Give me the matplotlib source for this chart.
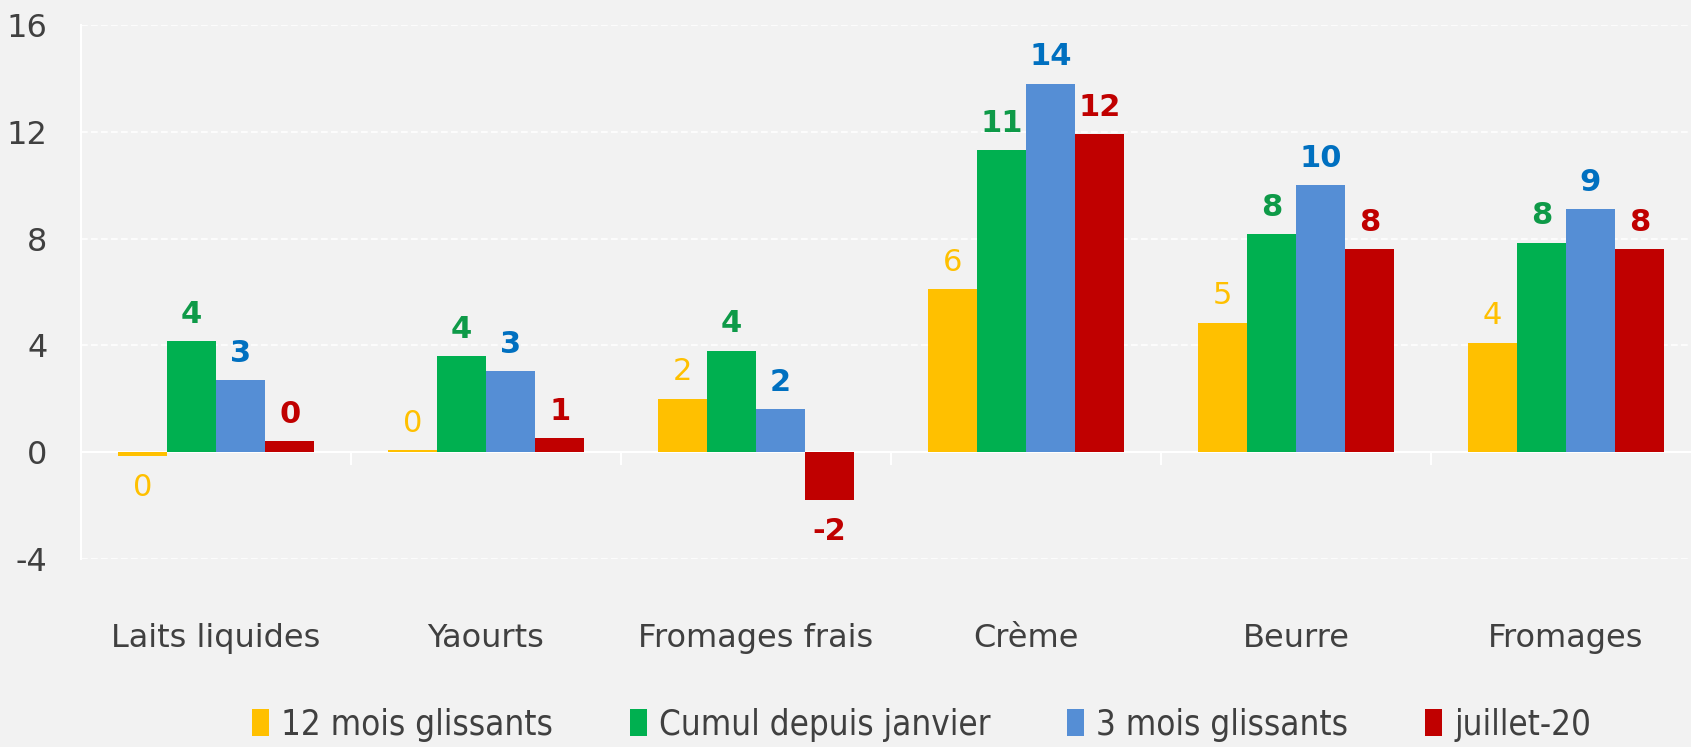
"""Bar chart: dairy product variations by period."""

import matplotlib
matplotlib.use("Agg")
import matplotlib.pyplot as plt
import numpy as np


CATEGORIES = ["Laits liquides", "Yaourts", "Fromages frais", "Crème", "Beurre", "Fromages"]
SERIES = ["12 mois glissants", "Cumul depuis janvier", "3 mois glissants", "juillet-20"]

VAL_12M = [-0.16, 0.08, 2.0, 6.1, 4.85, 4.1]
VAL_CUMUL = [4.16, 3.6, 3.8, 11.3, 8.16, 7.84]
VAL_3M = [2.7, 3.03, 1.6, 13.8, 10.0, 9.1]
VAL_JUIL = [0.4, 0.53, -1.8, 11.9, 7.6, 7.6]

BAR_COLORS = ["#FFC000", "#00B050", "#558ED5", "#C00000"]
LABEL_COLORS = ["#FFC000", "#0E9A48", "#0070C0", "#C00000"]
LABEL_BOLD = [False, True, True, True]

BG = "#F2F2F2"
TEXT = "#404040"

plt.rcParams["axes.unicode_minus"] = False


def main() -> None:
    fig = plt.figure(figsize=(16.91, 7.47), dpi=100, facecolor=BG)
    ax = fig.add_axes([0.0479, 0.2517, 0.958, 0.7149], facecolor=BG)

    values = [VAL_12M, VAL_CUMUL, VAL_3M, VAL_JUIL]
    x = np.arange(len(CATEGORIES))
    width = 0.182

    for i, (vals, name) in enumerate(zip(values, SERIES)):
        pos = x + (i - 1.5) * width
        ax.bar(pos, vals, width=width, color=BAR_COLORS[i], label=name, zorder=3)
        for px, v in zip(pos, vals):
            off = 9 if v >= 0 else -12
            va = "bottom" if v >= 0 else "top"
            ax.annotate(f"{round(v):.0f}", (px, v), xytext=(0, off), textcoords="offset points",
                        ha="center", va=va, fontsize=22, color=LABEL_COLORS[i],
                        fontweight="bold" if LABEL_BOLD[i] else "normal", zorder=4)

    ax.set_ylim(-4, 16)
    ax.set_yticks([-4, 0, 4, 8, 12, 16])
    ax.set_xlim(-0.5, len(CATEGORIES) - 0.5)
    ax.set_xticks(x)
    ax.set_xticklabels(CATEGORIES)
    ax.set_xticks(np.arange(0.5, len(CATEGORIES) - 0.5), minor=True)

    # x axis sits on the zero line, like the original
    ax.spines["bottom"].set_position(("data", 0))
    ax.spines["bottom"].set_color("white")
    ax.spines["bottom"].set_linewidth(1.5)
    ax.spines["bottom"].set_zorder(2)

    ax.tick_params(axis="both", which="major", length=0, labelsize=23, labelcolor=TEXT)
    ax.tick_params(axis="x", which="major", pad=123)
    ax.tick_params(axis="x", which="minor", length=9, color="white", width=1.5)
    ax.tick_params(axis="y", pad=24)

    ax.grid(axis="y", color="white", linestyle=(0, (4, 2)), linewidth=1.2, zorder=0)
    ax.spines["left"].set_color("white")
    ax.spines["left"].set_linewidth(1.5)
    for side in ["top", "right"]:
        ax.spines[side].set_visible(False)

    fig.legend(loc="center", bbox_to_anchor=(0.545, 0.03), ncol=4, frameon=False,
               labelcolor=TEXT, handlelength=0.5, handleheight=0.8,
               handletextpad=0.35, columnspacing=2.2,
               prop={"family": "DejaVu Sans", "stretch": "condensed", "size": 25})

    fig.savefig("out.png", dpi=100, facecolor=BG)
    plt.close(fig)


if __name__ == "__main__":
    main()
